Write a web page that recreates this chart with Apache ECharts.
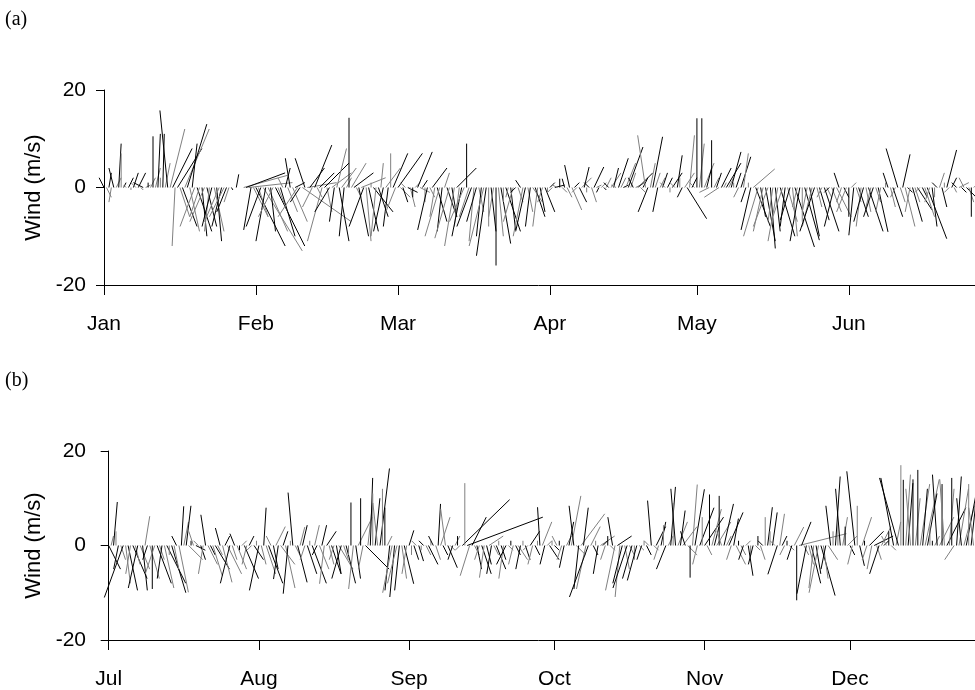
<!DOCTYPE html>
<html>
<head>
<meta charset="utf-8">
<script src="https://cdn.jsdelivr.net/npm/echarts@6/dist/echarts.min.js"></script>
<style>
  html, body { margin: 0; background: #fff; }
  #chart { width: 975px; height: 690px; }
</style>
</head>
<body>
<div id="chart"></div>
<script>
// month ticks (days from the first day of each half year)
const monthsA = ['Jan', 'Feb', 'Mar', 'Apr', 'May', 'Jun'];
const monthDaysA = [0, 31, 60, 91, 121, 152];
const monthsB = ['Jul', 'Aug', 'Sep', 'Oct', 'Nov', 'Dec'];
const monthDaysB = [0, 31, 62, 92, 123, 153];
const stepDays = 0.5; // one stick every 12 h

// panel (a): Jan - Jun, wind components u (east) and v (north), m/s
const uA = [
  -1,1, 0.5,-0.5, -1,1, 0.5,0, 0.5,-0.5, 1,0, 1,-1, 1.5,0.5, -2,1, 0,1,
  0,1, 0.5,0, 0.3,1, -1.6,3, 4,-0.6, 5,2, 3,5, 4,2, 1,-3, 3,-2,
  1,-3, 2,-1, -2,2, 1,-3, -2,-3, -2,-1, 0.3,null, 0.5,null, null,9, 8,9,
  -1.5,3, 6,2, -3,8, -2,4, 1,-3, 6,2, 3,-1, 1,2, -1,3, 2,-4,
  -2,10, -2,6, 3,-2, 3.5,1, 3,-3, 5,1, -3,4, -1,2, 2,3, -1,1,
  0,3, 4,1, 2,5, -3,1, 2,0, 4,-1, 2,0.5, -2,3, -1,0, 3,-2,
  5,2, 1,-1, 2,1, 0,1, 3,2, 1,0, -2,1, 3,-1, 2,-3, -1,1,
  2,-3, 1,-2, 4,-1, -2,-3, 0,-2, -3,-1, -2,1, -1,-3, -2,0, 1,-1,
  0,1, 2,0, 3,-0.5, 1,-2, -1,1, -1,-2, -2,1, -1,2, 2,-1, 1,-1,
  2,0, 1,-1, 2,-1, 0,1, -0.5,1, -1,2, 1,-1, 1.5,2, 1,0, -1,1,
  2,1, -0.5,1, 0.5,1, -1,2, 1,-1, 2,1, 1,2, 3,1, -1,2, 3,1,
  1,-1.6, -2,1, 2,1, -1,1, 1,-1, 1,0, 2,-1, 1,0, -1,2, 4,1,
  1,-1, 0,1, 0,2, 1,-2, 0,1, 1,-3, 2,0.5, 3,1, 2,0, 1,-1,
  2,1, -1,0, -2,4.4, 3,-3, 1,-2, 2,-3, 1,-1, 1,-2, 3,-2, -1,2,
  -2,1, 4,-1, -2,0, 3,-1, 2,-2, -3,1, 2,-1, 3,1, -1,2, -2,3,
  -1,-1, 1,-2, 0,1, -1,1, 2,-1, -2,1, 3,-1, -2,1, 2,-1, 1,0,
  -1,1, 2,-1, -2.4,1, 1.5,2, 1,-1, 2,1, 3,-1, 1,2, 4,-1, 1,0,
  -1,1, 1,0, 2,-1, 1,0.5, -1,2, 1,-1, 2,1, 0,1, 1,0, -1,1, 0,1, 1,0
];
const vA = [
  2,-2, 3,-3, 4,2, 9,7, 1,0.5, 2,-0.5, 3,1, 3,-0.5, 1,0.5, 1,2,
  10.5,4, 11,2, 11,5, 15.8,12, 8,-12, 8,-6, -8,12, 13,-9, 9,-8, -9,-6,
  -10,-7, -8,-9, -8,-9, -11,-7, -8,-6, -5,-3, -0.5,null, 2.7,null, null,2.5, 3,1,
  -8.7,-6, -12,-6, -8,-13, -11,-9, -9,-6, -12,-5, -10,2, 4,-5, 6,-7, 1,-6,
  -3,-7, 6,1, 4,-4, 8.7,-2, 3,-11, 5,-5, -5,3, -7,8, -11,4, -10,2,
  14.3,5, 3,-2, -10,2, -8,-11, -9,1, -5,-10, -6,5, -9,4, -8,7, 7,-5,
  7,-2, -3,1, -1,-4, -2,1, 7.3,-1, 1.5,-3, -8.7,-2, 4,-6, -7,-10, -9,3,
  -6,-10.4, -6,-12, 4,-8, -10,-7, 9,-6, -8,-11, -7,-5, -10,-12, -14,-8, -9,-6,
  -16,-10, -11.5,-3, -9,-2, -8.7,-7, -1,-3, 1.5,-10, -9,-5, -8,-3, -6,-8, -5,-3,
  -5,-1, 1,-1, 0.5,0.5, 1.8,-1, 1.8,-2, 4.6,-4.6, 1,-1, -3,2, 4.2,-1, 1,-3,
  4.2,0.5, -1,1, -0.5,2, 1,3, 4,0.5, 6,2, 0.5,5, 8.3,3, 2,1, 3,-1,
  2,10.7, -5,5, 10.4,3, -5,2, 3,1, 2,-1, 3,1, 6.6,2, -2,3, -6.4,10.7,
  2,1, 14.2,9, 14.2,5, 4,-1, 9.7,2, 3,-2, 4,1, 5,2, 7.3,1, 3,-2,
  6.3,7, -3,1, -8.7,3.8, -8,-10, -6,-9, -11,-8, -12.5,-7, -9,-11, -10,-6, -8,-7,
  -6.7,-10, -12.2,-4, -11,-7, -10.8,-5, -10,-8, -9,-4, -6.7,-2, -9,-2, -1,-5, -8,-6,
  3,-3, -2,-5, -6,1, -9.8,-3, -6,-8, -7,-5, -9,-4, -6,-3, -9.1,-5, -2,1,
  3,-4, -6,-2, 8,-3, 6.8,-8, -1,-5, -7,-3, -4.6,-1, -2,-6, -10.5,-3, -8,-2,
  1,3, -4,1, 7.7,-1, 2,-1, 1,1, -1,2, -2,-3, -6,1, -1,2, 1,-1, -1,2, 1,-1
];

// panel (b): Jul - Dec
const uB = [
  2.5,0.5, 0.8,0, -1,1, -4,1, 2,-1, 3,1, -2,2, 1,1, -1,2, 0,-2,
  3,1, -1,2, 4,0, 3,1, -1,2, 0.5,1, 1,3, 0,-1, 2,-1, 1,-1,
  -1,2, 1,2, 3,1, -1,2, 1,3, -2,1, -1,2, 0,1, 3,-1, 1,-1,
  2,0, -2,1, 0.5,2, 3,-1, 1,2, -1,3, 1,2, -1,0, -1,1, 2,1,
  1,-1, 2,0, 3,1, -1,2, 1,-1, 2,1, 2,-1, 1,3, -2,1, 2,0,
  0,-1, 1,3, 0,-1, 5,1, 0.5,0, 1,-1, 2,0, 0,1, -1,-2, -1,-2,
  -1,1, 2,-1, 1,0, 1,-1, 1,0, -1,1, 2,0, -1,1, 0.5,2, 1,-1,
  2,1, -1,1, 0,-1, 10,0, 16,-2, 3,1, 1,-1, 2,-1, 1,3, -1,1,
  2,0, 1,-1, -2,1, 0,-1, 1,2, -1,0, 1,-1, 2,-1, 1,0, -0.5,2,
  -1,1, 2,0, 1,-1, 0,-1, -1,1, 1,2, -1,2, -1,5, 1,-2, -4,2,
  1,0, -1,3, 1,-1, 0,1, -1,-2, 3,-1, -2,1, -3,1, -2,0, -2,1,
  -1,0, 1,-1, -0.8,1, 2,-1, 1,0, -2,1, 1,0, -1,2, 1,3, -1,2,
  0,1, 2,-1, 3,0, 4,1, 0,2, 1,3, 0,-1, 2,1, 3,-1, 1,2,
  0,1, -1,1, 1,0, -1,1, 0,1, -1,0, 1,0, 1,-1, -2,1, 1,-1,
  0,1, -1,2, 0,10, 2,1, -2,1, 2,-1, 1,-2, 3,1, -1,2, -1,0,
  1,0, -1,1, 0,2, 1,-1, -1.7,0, 1,2, 0,-1, 3,-1, 4,1, -2,2,
  1,-1, 0,1, -2.7,1, -4,0, 0,1, 1,-1, 0,1, 0,2, 1,3, 2,0,
  0,1, -1,3, 0,-1, 4,1, 0,-2, 1,2, -1,3, 2,0, 1,-1, 0,1, 1,0, 2,1, 0,1, 1,0
];
const vB = [
  -5,2, 9.2,3, -5,-3, -11,-8, -9.5,-6, -7,-4, -9,-5, -9.5,6.2, -3,-7, -9.2,-6,
  -8,-3, -7,-9, -8,-2, -10,-5, 2,-9.9, 8.3,5, 8.4,-3, 1,3, -1,1, -3,-6,
  6.5,-4, -2,-6.4, -5,-2, 3.7,-7.8, 2,-6, -8,-3, 2.5,-5, -1,1, -7,-4, 2,-1,
  -3,1, -9.5,-4, 8,-6, -8,2, -5,4, -7.1,-4, 3,-9, -10.2,1, 11.2,-2, -7.8,3.9,
  4.3,-3, -6,1, -8,4.3, -2,-5, 4.3,-8.1, 3,-4, -6,-3, -6,-5, -7,-3, -8,-2,
  9.1,-9.2, -7,6, 10,-5, -5,9, 14.3,11, 10,9, 16.3,12, 8,2, -9.5,-10, -10.9,-8,
  -9.5,-7, -8.1,-6, 3.2,-2, -3,1, -3.3,-1, 1,-2, -4,1, 2,-3, 8.8,6, -2,7.7,
  -4.7,-1, -3,2, 2,-1, 9.7,13.2, 6,-6.4, 6,-2, -5,-3, -6,-6.8, -4,2, -6,-2,
  -5,1, -3,-7, -4,-1, 1,-4, -2,-3, -5,1, -3,-1, 3,-4, -2,1, 8.1,5,
  -4,1, -3,1, -1,2, 1,-3, -4.7,2, 5,10.5, 8.4,-2, -9.2,6.7, 8,-9.2, -10.9,4,
  -2,1, -6,2, 1,-3, 2,-1, 6,-9.5, 2,-10.9, -8,-5, -9,-2, -7,-3, -7.4,-1,
  -3,1, -2,1, 9.5,-1, 4,-3, 5,4.3, -5,2, 12.4,9, 12,5, 7.4,4, 3,-2,
  -6.8,12.9, 11.9,-4, 8,6, 6,-2, 10.8,7.7, 4,5, 10.5,3, 8.8,2, 7,-3, 5.7,-4,
  1,-2, -3,1, -6.4,-2, -4,-1, 2,-3, 1,6, 8.1,3, 7,1, -6.1,6.7, 2,-2,
  1,-1, -3,3.9, -11.6,2.5, 5,-2, -10.2,-4, -8,-9, -6,-10, -10.6,-7, -5,-3, 8.4,3,
  14.6,5, 12,6, 4,2, -2,-4, 15.7,8.4, -4.3,6, 1,-3, 3,-5, 2,-3, -6,4,
  1,2, 3,-1, 14.3,5, 14.3,17, 13.9,15, 13.2,12, 14,10, 16,13, 12,14, 11,4,
  1,2, 15,6, 13,14, 8,12, 14.3,-3, 14.6,12, 10,11, 10.5,13, 9,8, 7,5, 6,8, 5,4, 3,6, 5,4
];

function sticks(u, v) {
  const out = [];
  for (let i = 0; i < u.length; i++) {
    if (u[i] == null || v[i] == null) continue;
    out.push([i * stepDays, 0, u[i], v[i], i % 2]);
  }
  return out;
}

// stick from (t, 0) to (t + u, v), u drawn with the same pixel scale as v
function renderStick(params, api) {
  const base = api.coord([api.value(0), 0]);
  const tipY = api.coord([api.value(0), api.value(3)])[1];
  const unit = api.size([0, 1])[1];
  return {
    type: 'line',
    shape: { x1: base[0], y1: base[1], x2: base[0] + api.value(2) * unit, y2: tipY },
    style: { stroke: api.value(4) ? '#808080' : '#000000', lineWidth: 1 }
  };
}

const font = 'Liberation Sans, Arial, sans-serif';

function xAxisFor(gridIndex, min, max, days, names) {
  return {
    type: 'value', gridIndex: gridIndex, min: min, max: max,
    axisLine: { show: true, onZero: false, lineStyle: { color: '#000', width: 1 } },
    axisTick: { show: true, customValues: days, length: 10, lineStyle: { color: '#000' } },
    axisLabel: {
      customValues: days,
      formatter: function (val) { return names[days.indexOf(val)]; },
      fontFamily: font, fontSize: 21, color: '#000', margin: 29
    },
    splitLine: { show: false }
  };
}

function yAxisFor(gridIndex) {
  return {
    type: 'value', gridIndex: gridIndex, min: -20, max: 20, interval: 20,
    axisLine: { show: true, lineStyle: { color: '#000', width: 1 } },
    axisTick: { show: true, length: 8, lineStyle: { color: '#000' } },
    axisLabel: { fontFamily: font, fontSize: 21, color: '#000', margin: 16 },
    splitLine: { show: false },
    name: 'Wind (m/s)', nameLocation: 'middle', nameGap: 44,
    nameTextStyle: { fontFamily: font, fontSize: 22, color: '#000' }
  };
}

const chart = echarts.init(document.getElementById('chart'), null, { renderer: 'canvas' });
chart.setOption({
  animation: false,
  backgroundColor: '#fff',
  grid: [
    { left: 102, top: 90, right: 0, height: 195 },
    { left: 102, top: 451, right: 0, height: 193 }
  ],
  xAxis: [
    xAxisFor(0, -0.41, 177.75, monthDaysA, monthsA),
    xAxisFor(1, -1.38, 178.8, monthDaysB, monthsB)
  ],
  yAxis: [yAxisFor(0), yAxisFor(1)],
  graphic: [
    { type: 'text', left: 5, top: 10, style: { text: '(a)', font: '20px "Liberation Serif", serif', fill: '#000' } },
    { type: 'text', left: 5, top: 371, style: { text: '(b)', font: '20px "Liberation Serif", serif', fill: '#000' } }
  ],
  series: [
    { type: 'custom', xAxisIndex: 0, yAxisIndex: 0, renderItem: renderStick,
      encode: { x: 0, y: 1 }, data: sticks(uA, vA), silent: true, clip: false },
    { type: 'custom', xAxisIndex: 1, yAxisIndex: 1, renderItem: renderStick,
      encode: { x: 0, y: 1 }, data: sticks(uB, vB), silent: true, clip: false }
  ]
});
</script>
</body>
</html>
